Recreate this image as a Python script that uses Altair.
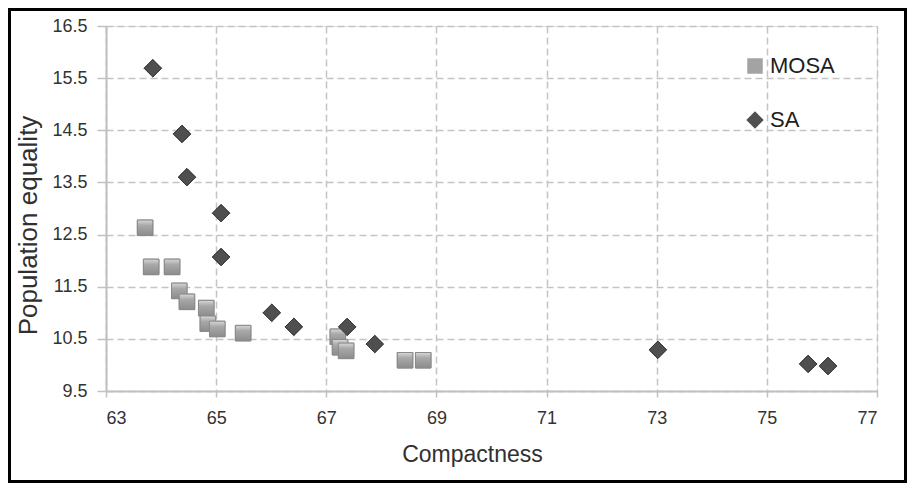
import altair as alt
import pandas as pd

# ---- data ----
mosa_x = [63.71, 63.82, 64.20, 64.33, 64.47, 64.82, 64.85, 65.02, 65.49, 67.21, 67.25, 67.36, 68.43, 68.76]
mosa_y = [12.63, 11.88, 11.88, 11.42, 11.21, 11.09, 10.79, 10.69, 10.61, 10.54, 10.34, 10.27, 10.09, 10.09]
sa_x = [63.85, 64.38, 64.47, 65.09, 65.09, 66.01, 66.41, 67.38, 67.88, 73.02, 75.75, 76.11]
sa_y = [15.69, 14.43, 13.60, 12.91, 12.07, 11.00, 10.73, 10.73, 10.40, 10.29, 10.02, 9.98]
series = ["MOSA", "SA"]
x_ticks = [63, 65, 67, 69, 71, 73, 75, 77]
y_ticks = [9.5, 10.5, 11.5, 12.5, 13.5, 14.5, 15.5, 16.5]

df = pd.DataFrame({
    "Compactness": mosa_x + sa_x,
    "Population equality": mosa_y + sa_y,
    "method": [series[0]] * len(mosa_x) + [series[1]] * len(sa_x),
})

W, H = 771, 365
PAD = {"left": 98, "top": 18, "right": 30, "bottom": 92}
FONT = "Liberation Sans"

xscale = alt.Scale(domain=[63, 77], nice=False, zero=False)
yscale = alt.Scale(domain=[9.5, 16.5], nice=False, zero=False)

legend_kw = dict(title=None, orient="none", legendX=638, legendY=29,
                 labelFontSize=22, labelFont=FONT, labelColor="#202020",
                 symbolSize=190, rowPadding=32, labelOffset=4,
                 padding=0, symbolStrokeWidth=0)

points = alt.Chart(df).mark_point(filled=True, opacity=1, strokeWidth=1).encode(
    x=alt.X("Compactness:Q", scale=xscale,
            axis=alt.Axis(values=x_ticks, title="Compactness", format="d",
                          grid=True, gridDash=[7, 4], gridColor="#c4c4c4", gridWidth=1.5,
                          domainColor="#c0c0c0", domainWidth=2,
                          tickColor="#c0c0c0", tickSize=6, tickWidth=1.5,
                          labelFontSize=18, labelColor="#333333", labelPadding=12,
                          labelFont=FONT, titleFont=FONT, titleFontSize=23,
                          titleFontWeight="normal", titleColor="#303030",
                          titleX=366, titleY=70, titleBaseline="alphabetic",
                          titleAnchor="middle")),
    y=alt.Y("Population equality:Q", scale=yscale,
            axis=alt.Axis(values=y_ticks, title="Population equality", format=".1f",
                          grid=True, gridDash=[7, 4], gridColor="#c4c4c4", gridWidth=1.5,
                          domainColor="#c0c0c0", domainWidth=2,
                          tickColor="#c0c0c0", tickSize=9, tickWidth=1.5,
                          labelFontSize=18, labelColor="#333333", labelPadding=10,
                          labelFont=FONT, titleFont=FONT, titleFontSize=26,
                          titleFontWeight="normal", titleColor="#303030",
                          titleX=-78, titleY=199, titleAngle=-90,
                          titleBaseline="middle", titleAlign="center")),
    shape=alt.Shape("method:N", scale=alt.Scale(domain=series, range=["square", "diamond"]),
                    legend=alt.Legend(**legend_kw)),
    color=alt.Color("method:N", scale=alt.Scale(domain=series, range=["#a3a3a3", "#4f4f4f"]),
                    legend=alt.Legend(**legend_kw)),
    size=alt.Size("method:N", scale=alt.Scale(domain=series, range=[240, 300]), legend=None),
    stroke=alt.Stroke("method:N", scale=alt.Scale(domain=series, range=["#888888", "#3a3a3a"]), legend=None),
)

gradient = {
    "gradient": "linear", "x1": 0, "y1": 0, "x2": 0, "y2": 1,
    "stops": [
        {"offset": 0, "color": "#d8d8d8"},
        {"offset": 0.35, "color": "#a8a8a8"},
        {"offset": 1, "color": "#8c8c8c"},
    ],
}

mosa_shade = alt.Chart(df).transform_filter(
    alt.datum.method == series[0]
).mark_point(filled=True, opacity=1, shape="square", size=240,
             stroke="#8a8a8a", strokeWidth=1).encode(
    x=alt.X("Compactness:Q", scale=xscale),
    y=alt.Y("Population equality:Q", scale=yscale),
    fill=alt.value(gradient),
)

sa_top = alt.Chart(df).transform_filter(
    alt.datum.method == series[1]
).mark_point(filled=True, opacity=1, shape="diamond", size=300,
             stroke="#3a3a3a", strokeWidth=1, fill="#4f4f4f").encode(
    x=alt.X("Compactness:Q", scale=xscale),
    y=alt.Y("Population equality:Q", scale=yscale),
)

border = alt.Chart(pd.DataFrame({"a": [0]})).mark_rect(
    fill=None, stroke="black", strokeWidth=3
).encode(
    x=alt.value(-PAD["left"] + 1.5), x2=alt.value(W + PAD["right"] - 1.5),
    y=alt.value(-PAD["top"] + 1.5), y2=alt.value(H + PAD["bottom"] - 1.5),
)

chart = alt.layer(points, mosa_shade, sa_top, border).properties(
    width=W, height=H,
    autosize=alt.AutoSizeParams(type="none"),
    padding=PAD,
).configure_view(stroke=None).configure(background="white")

chart.save("out.html", embed_options={"renderer": "svg", "actions": False})
